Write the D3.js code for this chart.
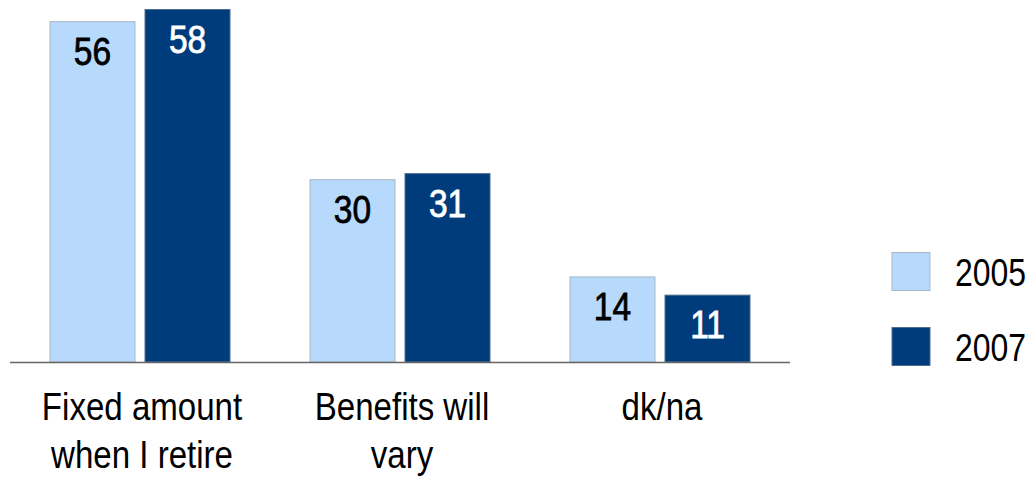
<!DOCTYPE html>
<html><head><meta charset="utf-8">
<script src="https://cdn.jsdelivr.net/npm/d3@7"></script>
<style>body{margin:0;background:#fff}svg{display:block}text{font-family:"Liberation Sans Narrow","Arial Narrow","Liberation Sans",Arial,sans-serif}</style>
</head><body><svg id="c" width="1031" height="477"></svg>
<script>
const categories = [["Fixed amount","when I retire"],["Benefits will","vary"],["dk/na"]];
const seriesNames = ["2005","2007"];
const values2005 = [56,30,14];
const values2007 = [58,31,11];
const fills = ["#b7dafc","#003c7b"];
const strokes = ["#a9b6c4","#4f6d8c"];
const labelColors = ["#000","#fff"];

const svg = d3.select("#c");
const x0 = d3.scaleBand().domain(d3.range(categories.length)).range([10,790]).paddingInner(0).paddingOuter(0);
const groupW = 181;
const x1 = d3.scaleBand().domain(seriesNames).range([0,groupW]).paddingInner(0.095);
const y = d3.scaleLinear().domain([0,58]).range([362,9.5]);

const data = categories.map((c,i)=>({i, vals:[values2005[i],values2007[i]]}));
const g = svg.selectAll("g.grp").data(data).join("g")
  .attr("transform",d=>`translate(${x0(d.i)+x0.bandwidth()/2-groupW/2},0)`);
g.selectAll("rect").data(d=>d.vals.map((v,k)=>({v,k}))).join("rect")
  .attr("x",d=>x1(seriesNames[d.k])+0.5).attr("width",x1.bandwidth()-1)
  .attr("y",d=>y(d.v)).attr("height",d=>y(0)-y(d.v))
  .attr("fill",d=>fills[d.k]).attr("stroke",d=>strokes[d.k]).attr("stroke-width",1);
g.selectAll("text.val").data(d=>d.vals.map((v,k)=>({v,k}))).join("text").attr("class","val")
  .attr("transform",d=>`translate(${x1(seriesNames[d.k])+x1.bandwidth()/2},${y(d.v)+43}) scale(0.87,1)`)
  .attr("text-anchor","middle").attr("font-size",38.5)
  .attr("fill",d=>labelColors[d.k]).attr("stroke",d=>labelColors[d.k]).attr("stroke-width",0.8)
  .text(d=>d.v);

svg.append("line").attr("x1",10).attr("x2",790).attr("y1",362.5).attr("y2",362.5).attr("stroke","#666").attr("stroke-width",1.3);

const xa = svg.append("g");
categories.forEach((lines,i)=>{
  lines.forEach((l,j)=>xa.append("text")
    .attr("transform",`translate(${x0(i)+x0.bandwidth()/2+2},${420+j*48}) scale(0.87,1)`)
    .attr("text-anchor","middle").attr("font-size",38).attr("fill","#000").text(l));
});

const leg = svg.append("g");
seriesNames.forEach((s,k)=>{
  leg.append("rect").attr("x",892).attr("y",252.5+k*75).attr("width",38).attr("height",38)
    .attr("fill",fills[k]).attr("stroke",strokes[k]);
  leg.append("text").attr("transform",`translate(955,${286+k*75}) scale(0.82,1)`)
    .attr("font-size",39).attr("fill","#000").text(s);
});
</script></body></html>
